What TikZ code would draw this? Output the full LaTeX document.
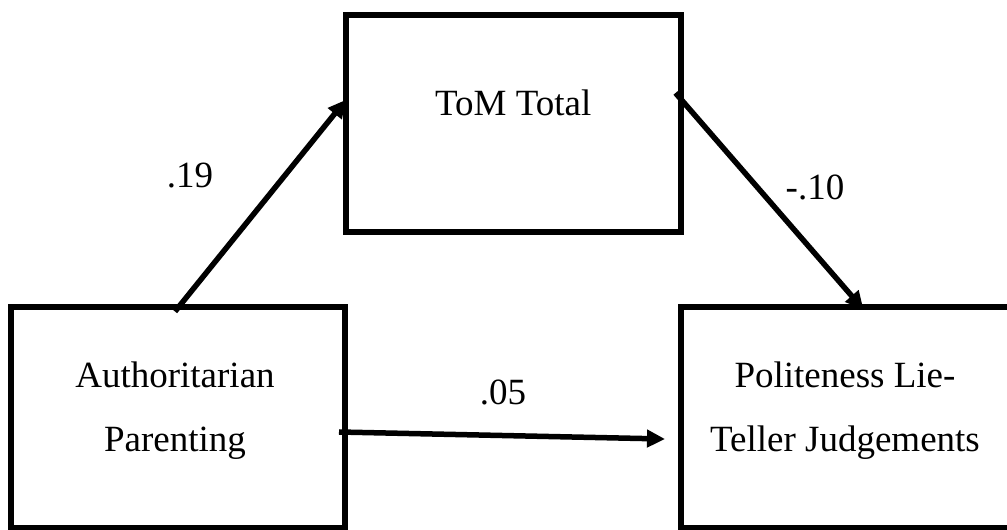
\documentclass[tikz,border=0pt]{standalone}
\usepackage{fontspec}
\setmainfont{Liberation Serif}
\usetikzlibrary{arrows.meta}
\newcommand{\boxfont}{\fontsize{37}{64}\selectfont}

\begin{document}
\begin{tikzpicture}[x=1pt,y=1pt,
     box/.style={draw,line width=6pt,outer sep=0pt,inner sep=0pt,minimum height=221pt},
     effect/.style={line width=5.5pt,-{Triangle[length=18pt,width=17pt]}},
     txt/.style={align=center,font=\boxfont,inner sep=0pt}]
     \useasboundingbox (0,0) rectangle (1007,530);
     \node[box,minimum width=334pt] (auth) at (178,112) {};
     \node[box,minimum width=334.5pt,minimum height=216.5pt] (tom) at (513.25,406.25) {};
     \node[box,minimum width=330pt] (polite) at (846,112) {};
     \node[txt] (authtxt) at (175,119) {Authoritarian\\Parenting};
     \node[txt] (tomtxt) at ([yshift=21pt]tom.center) {ToM Total};
     \node[txt] (politetxt) at (845,119) {Politeness Lie-\\Teller Judgements};
     \draw[effect] ([xshift=-3pt,yshift=-4pt]auth.north) -- ([yshift=24pt]tom.west);
     \draw[effect] ([xshift=-5pt,yshift=30.75pt]tom.east) -- ([xshift=17.5pt,yshift=-2pt]polite.north);
     \draw[effect] ([xshift=-6pt,yshift=-14pt]auth.east) -- ([xshift=-16pt,yshift=-21pt]polite.west);
     \node[txt] (a) at (190,354.5) {.19};
     \node[txt] (b) at (815,343) {-.10};
     \node[txt] (c) at (503,138) {.05};
    \end{tikzpicture}
\end{document}
